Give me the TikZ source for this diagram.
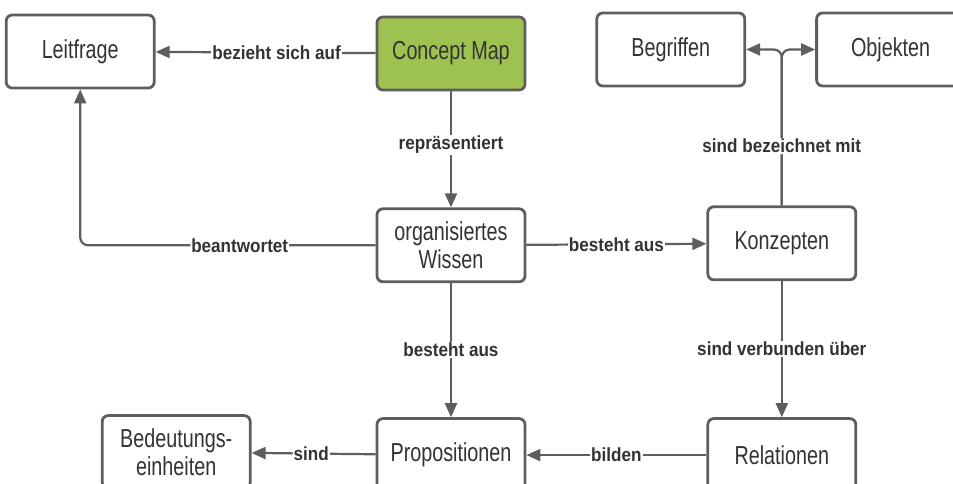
\documentclass[tikz,border=0pt]{standalone}
\usepackage{fontspec}
\newfontfamily\boxfont[FakeStretch=0.76]{Liberation Sans}
\newfontfamily\lblfont[FakeStretch=0.9]{Liberation Sans}
\usetikzlibrary{positioning,arrows.meta}
\definecolor{cLine}{HTML}{5E5E5E}
\definecolor{cText}{HTML}{333333}
\definecolor{cGreen}{HTML}{9DC24F}

\begin{document}
\begin{tikzpicture}[
  x=1pt, y=1pt,
  >={Triangle[length=14pt,width=12pt]},
  box/.style={draw=cLine, fill=white, rounded corners=6pt, line width=2.8pt,
              minimum width=148pt, minimum height=73pt, inner sep=2pt,
              align=center, text=cText, font=\boxfont\fontsize{26}{28}\selectfont},
  root/.style={box, fill=cGreen},
  link/.style={->, draw=cLine, line width=2.2pt},
  lbl/.style={fill=white, text=cText, inner sep=1pt,
              font=\lblfont\fontsize{19}{21}\selectfont\bfseries},
  node distance=72pt,
]
\useasboundingbox (0,0) rectangle (953,484);
\clip (0,0) rectangle (953,484);

\node[root] (cmap) at (451,430.5) {Concept Map};
\node[box, left=220pt of cmap, yshift=2pt] (leit) {Leitfrage};
\node[box, right=69pt of cmap, yshift=4pt] (begr) {Begriffen};
\node[box, right=69pt of begr] (obj) {Objekten};
\node[box, below=116pt of cmap] (wiss) {organisiertes\\Wissen};
\node[box, right=180pt of wiss, yshift=2pt] (konz) {Konzepten};
\node[box, below=134pt of wiss] (prop) {Propositionen};
\node[box, right=180pt of prop] (rel) {Relationen};
\node[box, left=124pt of prop, yshift=3pt] (bed) {Bedeutungs-\\einheiten};

\draw[link] (cmap) -- node[lbl, pos=0.45] {bezieht sich auf} (leit);
\draw[link] (cmap) -- node[lbl, pos=0.46] {repräsentiert} (wiss);
\draw[link, rounded corners=8pt] (wiss.west) -| node[lbl, pos=0.23] {beantwortet} (leit.south);
\draw[link] (wiss) -- node[lbl] {besteht aus} (konz);
\draw[link] (wiss) -- node[lbl] {besteht aus} (prop);
\draw[link, rounded corners=8pt] (konz.north) |- (obj.west);
\draw[link, rounded corners=8pt] (konz.north) |- node[lbl, pos=0.19] {sind bezeichnet mit} (begr.east);
\draw[link] (konz) -- node[lbl] {sind verbunden über} (rel);
\draw[link] (rel) -- node[lbl] {bilden} (prop);
\draw[link] (prop) -- node[lbl, pos=0.52] {sind} (bed);
\end{tikzpicture}
\end{document}
